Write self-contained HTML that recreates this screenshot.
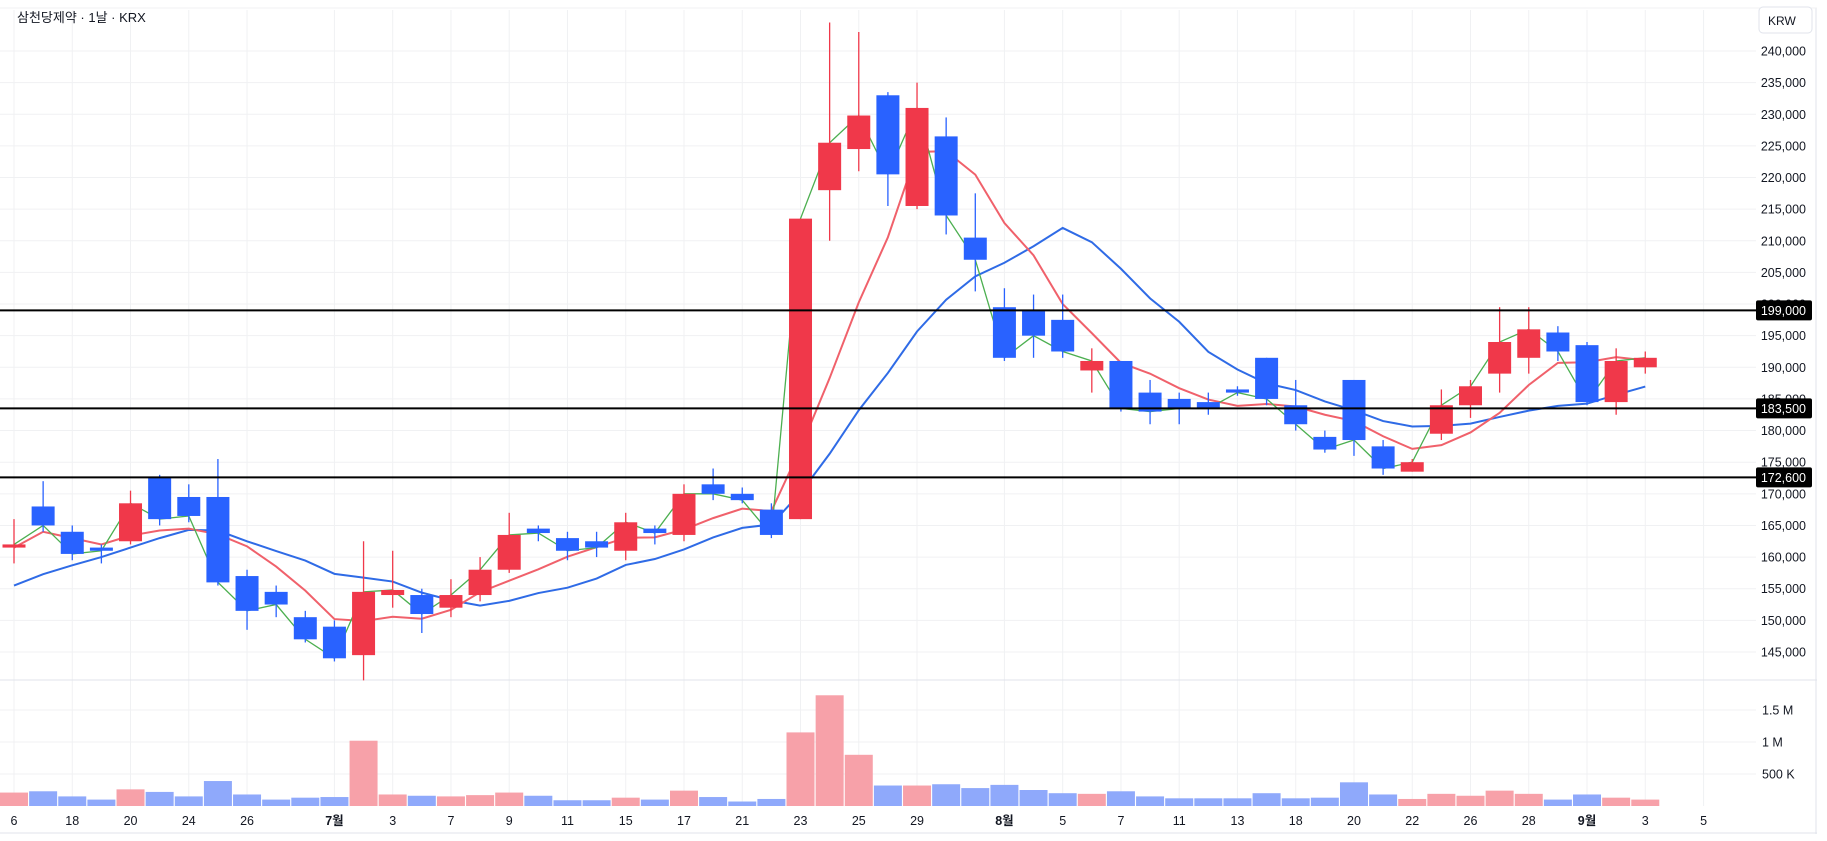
<!DOCTYPE html>
<html><head><meta charset="utf-8">
<style>
html,body{margin:0;padding:0;background:#fff;}
body{width:1827px;height:836px;overflow:hidden;font-family:"Liberation Sans","Noto Sans CJK KR",sans-serif;}
svg text{font-family:"Liberation Sans","Noto Sans CJK KR",sans-serif;}
</style></head><body>
<svg id="s" width="1827" height="836" xmlns="http://www.w3.org/2000/svg"></svg>
<script>
const C=[
[161.5,166,159,162],[168,172,164,165],[164,165,159.5,160.5],[161.5,162,159,161],[162.5,170.5,162,168.5],
[172.5,173,165,166],[169.5,171.5,165.5,166.5],[169.5,175.5,155.5,156],[157,158,148.5,151.5],[154.5,155.5,150.5,152.5],
[150.5,151.5,146.5,147],[149,150,143.5,144],[144.5,162.5,140.5,154.5],[154,161,152,154.8],[154,155,148,151],
[152,156.5,150.5,154],[154,160,153,158],[158,167,157.5,163.5],[164.5,165,162.5,163.8],[163,164,159.5,161],
[162.5,164,160,161.5],[161,167,159.5,165.5],[164.5,165,162,163.8],[163.5,171.5,162.5,170],[171.5,174,169,170],
[170,171,168.5,169],[167.5,168.5,163,163.5],[166,213.5,166,213.5],[218,244.5,210,225.5],[224.5,243,221,229.8],
[233,233.5,215.5,220.5],[215.5,235,215,231],[226.5,229.5,211,214],[210.5,217.5,202,207],[199.5,202.5,191,191.5],
[199,201.5,191.5,195],[197.5,201.5,191.5,192.5],[189.5,193,186,191],[191,191,183,183.5],[186,188,181,183],
[185,186,181,183.5],[184.5,186,182.5,183.5],[186.5,187,185.5,186],[191.5,191.5,184,185],[184,188,180,181],
[179,180,176.5,177],[188,188,176,178.5],[177.5,178.5,173,174],[173.5,175.5,173.5,175],[179.5,186.5,178.5,184],
[184,188,182,187],[189,199.5,186,194],[191.5,199.5,189,196],[195.5,196.5,191,192.5],[193.5,194,184,184.5],
[184.5,193,182.5,191],[190,192.5,189,191.5]];
const V=[210,230,150,100,260,220,150,390,180,100,130,140,1020,180,160,150,170,210,160,90,90,130,100,240,140,70,110,1150,1730,800,320,320,340,280,330,250,200,190,230,150,120,120,120,200,120,130,370,180,110,190,160,240,190,100,180,130,100];
const X=k=>14+k*29.13;
const Y=p=>51+(240-p)/5*31.63;
const VY=v=>806-v/500*32;
let s='';
const W=1756;
for(let p=145;p<=240;p+=5)s+=`<line x1="0" x2="${W}" y1="${Y(p)}" y2="${Y(p)}" stroke="#f0f1f3"/>`;
[500,1000,1500].forEach(v=>s+=`<line x1="0" x2="${W}" y1="${VY(v)}" y2="${VY(v)}" stroke="#f0f1f3"/>`);
const labels=[[0,"6"],[2,"18"],[4,"20"],[6,"24"],[8,"26"],[11,"7월"],[13,"3"],[15,"7"],[17,"9"],[19,"11"],[21,"15"],[23,"17"],[25,"21"],[27,"23"],[29,"25"],[31,"29"],[34,"8월"],[36,"5"],[38,"7"],[40,"11"],[42,"13"],[44,"18"],[46,"20"],[48,"22"],[50,"26"],[52,"28"],[54,"9월"],[56,"3"],[58,"5"]];
labels.forEach(([k,l])=>{const x=X(k);s+=`<line x1="${x}" x2="${x}" y1="10" y2="806" stroke="#f0f1f3"/>`;
 const b=l.includes('월');s+=`<text x="${x}" y="825" font-size="12.5" text-anchor="middle" fill="#131722" ${b?'font-weight="bold"':''}>${l}</text>`;});
s+=`<line x1="0" x2="1817" y1="680" y2="680" stroke="#e0e3eb"/>`;
s+=`<line x1="1816" x2="1816" y1="8" y2="834" stroke="#e0e3eb"/>`;
s+=`<line x1="0" x2="1817" y1="833" y2="833" stroke="#e0e3eb"/>`;
s+=`<line x1="0" x2="1817" y1="8" y2="8" stroke="#f0f1f3"/>`;
V.forEach((v,k)=>{const up=C[k][3]>=C[k][0];s+=`<rect x="${X(k)-14}" y="${VY(v)}" width="28" height="${806-VY(v)}" fill="${up?'#f7a1a9':'#8fa9fb'}"/>`;});
const cl=C.map(c=>c[3]);
const ma=(n,pre)=>cl.map((_,k)=>k<n-1?pre[k]:cl.slice(k-n+1,k+1).reduce((a,b)=>a+b)/n);
const m5=ma(5,[161.5,164,163,162]);
const m10=ma(10,[155.5,157.3,158.7,160,161.5,163,164.3,164.2,162.5]);
const pl=(a,c,w)=>`<polyline fill="none" stroke="${c}" stroke-width="${w}" points="${a.map((p,k)=>X(k)+','+Y(p)).join(' ')}"/>`;
s+=pl(m10,'#2f6be6',2)+pl(m5,'#f0616b',2)+pl(cl,'#4caf50',1.3);
C.forEach((c,k)=>{const [o,h,l,cc]=c;const up=cc>=o;const col=up?'#f0384a':'#2962ff';const x=X(k);
 s+=`<line x1="${x}" x2="${x}" y1="${Y(h)}" y2="${Y(l)}" stroke="${col}" stroke-width="1.3"/>`;
 const t=Y(Math.max(o,cc)),b=Y(Math.min(o,cc));s+=`<rect x="${x-11.5}" y="${t}" width="23" height="${Math.max(b-t,1.5)}" fill="${col}"/>`;});
[[199,'199,000'],[183.5,'183,500'],[172.6,'172,600']].forEach(([p,t])=>{const y=Y(p);
 s+=`<line x1="0" x2="${W}" y1="${y}" y2="${y}" stroke="#000" stroke-width="2"/>`;});
for(let p=145;p<=240;p+=5){s+=`<text x="1806" y="${Y(p)+4.5}" font-size="12.5" text-anchor="end" fill="#131722">${p},000</text>`;}
[[1500,'1.5 M'],[1000,'1 M'],[500,'500 K']].forEach(([v,t])=>s+=`<text x="1762" y="${VY(v)+4.5}" font-size="12.5" fill="#131722">${t}</text>`);
[[199,'199,000'],[183.5,'183,500'],[172.6,'172,600']].forEach(([p,t])=>{const y=Y(p);
 s+=`<rect x="1756" y="${y-10}" width="56" height="20" rx="2" fill="#000"/><text x="1806" y="${y+4.5}" font-size="12.5" text-anchor="end" fill="#fff">${t}</text>`;});
s+=`<rect x="1759" y="7" width="53" height="26" rx="4" fill="#fff" stroke="#e0e3eb"/><text x="1768" y="25" font-size="12" fill="#131722">KRW</text>`;
s+=`<text x="17" y="22" font-size="13" fill="#131722">삼천당제약 · 1날 · KRX</text>`;
document.getElementById('s').innerHTML=s;
</script>
</body></html>
